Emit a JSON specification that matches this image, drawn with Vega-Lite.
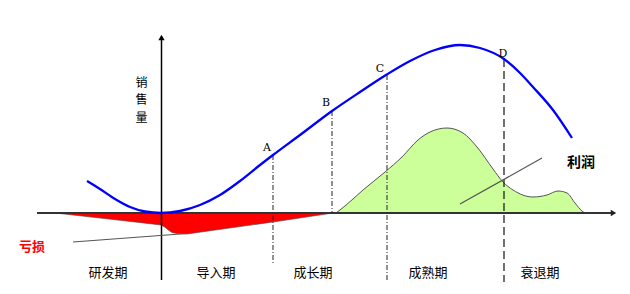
{
  "$schema": "https://vega.github.io/schema/vega-lite/v6.json",
  "width": 630,
  "height": 294,
  "autosize": {"type": "fit", "contains": "padding"},
  "padding": 0,
  "config": {"view": {"stroke": null}},
  "datasets": {
    "sales": [
      {"t": -74, "v": 32}, {"t": -61, "v": 24}, {"t": -46, "v": 14}, {"t": -31, "v": 6},
      {"t": -16, "v": 1.5}, {"t": 0, "v": 0}, {"t": 19, "v": 2}, {"t": 39, "v": 8},
      {"t": 59, "v": 18}, {"t": 79, "v": 32}, {"t": 99, "v": 48}, {"t": 112, "v": 58},
      {"t": 139, "v": 78}, {"t": 171, "v": 102}, {"t": 199, "v": 121}, {"t": 225, "v": 138},
      {"t": 249, "v": 152}, {"t": 274, "v": 163}, {"t": 299, "v": 168}, {"t": 319, "v": 165},
      {"t": 343, "v": 154}, {"t": 359, "v": 140}, {"t": 372, "v": 126}, {"t": 392, "v": 103},
      {"t": 411, "v": 75}
    ],
    "loss": [
      {"t": -106, "v": 0}, {"t": -61, "v": -5}, {"t": 0, "v": -12}, {"t": 2, "v": -13},
      {"t": 5, "v": -15}, {"t": 8, "v": -17.5}, {"t": 11, "v": -19.5}, {"t": 16, "v": -20.5},
      {"t": 26, "v": -21}, {"t": 112, "v": -9}, {"t": 172, "v": 0}
    ],
    "profit": [
      {"t": 175, "v": 0}, {"t": 184, "v": 7}, {"t": 202, "v": 23}, {"t": 224, "v": 41},
      {"t": 241, "v": 56}, {"t": 257, "v": 73}, {"t": 269, "v": 81}, {"t": 286, "v": 85},
      {"t": 302, "v": 80}, {"t": 316, "v": 66}, {"t": 332, "v": 44}, {"t": 342, "v": 31},
      {"t": 352, "v": 23}, {"t": 372, "v": 16}, {"t": 386, "v": 18}, {"t": 397, "v": 22},
      {"t": 406, "v": 20}, {"t": 414, "v": 10}, {"t": 421, "v": 2}, {"t": 424, "v": 0}
    ],
    "stages": [
      {"stage": "A", "t": 112, "top": 58, "bottom": -52},
      {"stage": "B", "t": 171, "top": 102, "bottom": 0},
      {"stage": "C", "t": 226, "top": 138, "bottom": -67},
      {"stage": "D", "t": 343, "top": 154, "bottom": -69}
    ],
    "letters": [
      {"text": "A", "t": 106, "v": 65},
      {"text": "B", "t": 165, "v": 110},
      {"text": "C", "t": 219, "v": 144},
      {"text": "D", "t": 342, "v": 159}
    ],
    "axes": [
      {"axis": "时间", "t": -124, "t2": 451, "v": 0, "v2": 0},
      {"axis": "销售量", "t": 0.5, "t2": 0.5, "v": -67, "v2": 175}
    ],
    "arrows": [
      {"axis": "时间", "t": 452.5, "v": 0, "dir": "right"},
      {"axis": "销售量", "t": 0.5, "v": 175.5, "dir": "up"}
    ],
    "pointers": [
      {"name": "亏损", "t": -88, "v": -29, "t2": 26, "v2": -20.5},
      {"name": "利润", "t": 299, "v": 9, "t2": 381, "v2": 55}
    ],
    "periods": [
      {"text": "研发期", "t": -53, "v": -60},
      {"text": "导入期", "t": 55, "v": -60},
      {"text": "成长期", "t": 152, "v": -60},
      {"text": "成熟期", "t": 267, "v": -60},
      {"text": "衰退期", "t": 379, "v": -60}
    ],
    "notes": [
      {"text": "亏损", "t": -129, "v": -34},
      {"text": "利润", "t": 420, "v": 50.5}
    ],
    "ytitle": [
      {"text": "销", "t": -19.5, "v": 130.5},
      {"text": "售", "t": -19.5, "v": 113},
      {"text": "量", "t": -19.5, "v": 95.5}
    ]
  },
  "encoding": {
    "x": {"field": "t", "type": "quantitative", "scale": {"domain": [-161, 469], "nice": false, "zero": false}, "axis": null},
    "y": {"field": "v", "type": "quantitative", "scale": {"domain": [-81, 213], "nice": false, "zero": false}, "axis": null}
  },
  "layer": [
    {
      "data": {"name": "loss"},
      "mark": {"type": "area", "fill": "#ff0000", "stroke": "#444444", "strokeWidth": 0.6, "interpolate": "linear"},
      "encoding": {"y2": {"datum": 0}}
    },
    {
      "data": {"name": "profit"},
      "mark": {"type": "area", "fill": "#ccff99", "stroke": "#555555", "strokeWidth": 1, "interpolate": "monotone"},
      "encoding": {"y2": {"datum": 0}}
    },
    {
      "data": {"name": "axes"},
      "transform": [{"filter": "datum.axis === '时间'"}],
      "mark": {"type": "rule", "color": "#333333", "strokeWidth": 2},
      "encoding": {"x2": {"field": "t2"}, "y2": {"field": "v2"}}
    },
    {
      "data": {"name": "axes"},
      "transform": [{"filter": "datum.axis === '销售量'"}],
      "mark": {"type": "rule", "color": "#000000", "strokeWidth": 1.5},
      "encoding": {"x2": {"field": "t2"}, "y2": {"field": "v2"}}
    },
    {
      "data": {"name": "stages"},
      "transform": [{"filter": "datum.stage !== 'D'"}],
      "mark": {"type": "rule", "color": "#222222", "strokeWidth": 1, "strokeDash": [5, 2, 1, 2]},
      "encoding": {"y": {"field": "top", "type": "quantitative"}, "y2": {"field": "bottom"}}
    },
    {
      "data": {"name": "stages"},
      "transform": [{"filter": "datum.stage === 'D'"}],
      "mark": {"type": "rule", "color": "#111111", "strokeWidth": 1.2, "strokeDash": [8, 4]},
      "encoding": {"y": {"field": "top", "type": "quantitative"}, "y2": {"field": "bottom"}}
    },
    {
      "data": {"name": "pointers"},
      "mark": {"type": "rule", "color": "#555555", "strokeWidth": 1.2},
      "encoding": {"x2": {"field": "t2"}, "y2": {"field": "v2"}}
    },
    {
      "data": {"name": "sales"},
      "mark": {"type": "line", "color": "#0000ff", "strokeWidth": 2.3, "interpolate": "monotone"}
    },
    {
      "data": {"name": "arrows"},
      "transform": [{"filter": "datum.dir === 'right'"}],
      "mark": {"type": "point", "shape": "triangle-right", "filled": true, "color": "#222222", "size": 40, "opacity": 1}
    },
    {
      "data": {"name": "arrows"},
      "transform": [{"filter": "datum.dir === 'up'"}],
      "mark": {"type": "point", "shape": "triangle-up", "filled": true, "color": "#000000", "size": 40, "opacity": 1}
    },
    {
      "data": {"name": "letters"},
      "mark": {"type": "text", "font": "DejaVu Serif", "fontSize": 11, "color": "#000000", "align": "center", "baseline": "middle"},
      "encoding": {"text": {"field": "text"}}
    },
    {
      "data": {"name": "periods"},
      "mark": {"type": "text", "font": "Noto Sans CJK SC", "fontSize": 13, "color": "#000000", "align": "center", "baseline": "middle"},
      "encoding": {"text": {"field": "text"}}
    },
    {
      "data": {"name": "notes"},
      "transform": [{"filter": "datum.text === '亏损'"}],
      "mark": {"type": "text", "font": "Noto Sans CJK SC", "fontSize": 13, "fontWeight": "bold", "color": "#ff0000", "align": "center", "baseline": "middle"},
      "encoding": {"text": {"field": "text"}}
    },
    {
      "data": {"name": "notes"},
      "transform": [{"filter": "datum.text === '利润'"}],
      "mark": {"type": "text", "font": "Noto Sans CJK SC", "fontSize": 14, "fontWeight": "bold", "color": "#000000", "align": "center", "baseline": "middle"},
      "encoding": {"text": {"field": "text"}}
    },
    {
      "data": {"name": "ytitle"},
      "mark": {"type": "text", "font": "Noto Sans CJK SC", "fontSize": 12, "color": "#000000", "align": "center", "baseline": "middle"},
      "encoding": {"text": {"field": "text"}}
    }
  ]
}
